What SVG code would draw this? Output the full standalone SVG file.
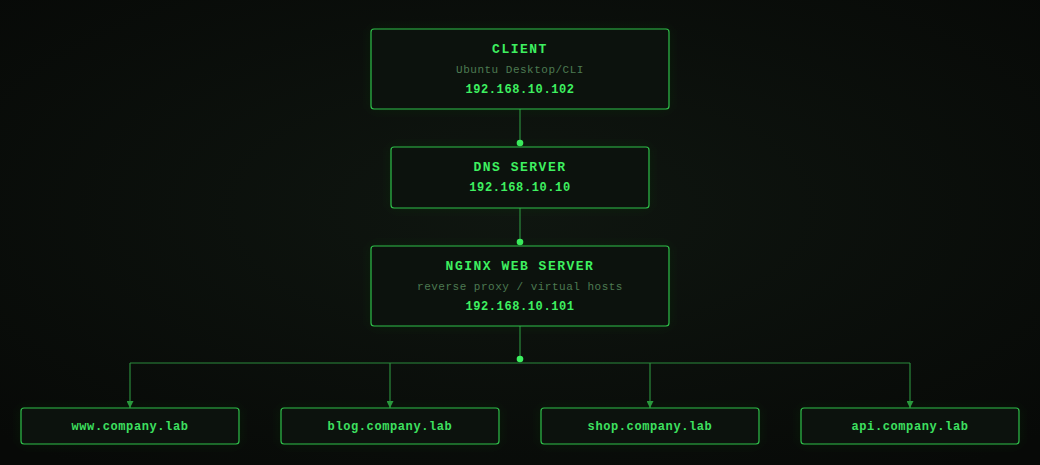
<svg xmlns="http://www.w3.org/2000/svg" width="1040" height="465" viewBox="0 0 1040 465">
<defs>
<radialGradient id="bg" cx="50%" cy="45%" r="70%">
<stop offset="0" stop-color="#0f1610"/>
<stop offset="1" stop-color="#070907"/>
</radialGradient>
<filter id="shadow" x="-20%" y="-60%" width="140%" height="220%">
<feGaussianBlur in="SourceGraphic" stdDeviation="6"/>
</filter>
<marker id="arr" viewBox="0 0 10 10" refX="10" refY="5" markerWidth="7" markerHeight="7" orient="auto" markerUnits="userSpaceOnUse">
<path d="M0,0 L10,5 L0,10 Z" fill="#2a9a3e"/>
</marker>
<style>
.box{fill:#0c120d;stroke:#2fbf4a;stroke-width:1.2}
.halo{fill:#1a6a2a;fill-opacity:0.18;stroke:none}
.t{font-family:"Liberation Mono","Courier New",monospace;font-weight:bold;font-size:13px;letter-spacing:1.5px;fill:#3ef060;text-anchor:middle}
.s{font-family:"Liberation Mono","Courier New",monospace;font-size:11px;letter-spacing:0.5px;fill:#4d7a52;text-anchor:middle}
.ip{font-family:"Liberation Mono","Courier New",monospace;font-weight:bold;font-size:12px;letter-spacing:0.6px;fill:#3ef060;text-anchor:middle}
.h{font-family:"Liberation Mono","Courier New",monospace;font-weight:bold;font-size:12px;letter-spacing:0.6px;fill:#3ee060;text-anchor:middle}
.ln{stroke:#2a8a3c;stroke-width:1.2;fill:none}
.dot{fill:#3cf060}
</style>
</defs>
<rect width="1040" height="465" fill="url(#bg)"/>
<g id="connectors">
<line class="ln" x1="520" y1="109" x2="520" y2="143"/>
<line class="ln" x1="520" y1="208" x2="520" y2="242"/>
<line class="ln" x1="520" y1="326" x2="520" y2="359"/>
<line class="ln" x1="130" y1="363" x2="910" y2="363"/>
<line class="ln" x1="130" y1="363" x2="130" y2="408" marker-end="url(#arr)"/>
<line class="ln" x1="390" y1="363" x2="390" y2="408" marker-end="url(#arr)"/>
<line class="ln" x1="650" y1="363" x2="650" y2="408" marker-end="url(#arr)"/>
<line class="ln" x1="910" y1="363" x2="910" y2="408" marker-end="url(#arr)"/>
<circle class="dot" cx="520" cy="143" r="3.3"/>
<circle class="dot" cx="520" cy="242" r="3.3"/>
<circle class="dot" cx="520" cy="359" r="3.3"/>
</g>
<g id="client">
<rect class="halo" x="371" y="29" width="298" height="80" rx="3" filter="url(#shadow)"/>
<rect class="box" x="371" y="29" width="298" height="80" rx="3"/>
<text class="t" x="520" y="53">CLIENT</text>
<text class="s" x="520" y="73">Ubuntu Desktop/CLI</text>
<text class="ip" x="520" y="93">192.168.10.102</text>
</g>
<g id="dns">
<rect class="halo" x="391" y="147" width="258" height="61" rx="3" filter="url(#shadow)"/>
<rect class="box" x="391" y="147" width="258" height="61" rx="3"/>
<text class="t" x="520" y="171">DNS SERVER</text>
<text class="ip" x="520" y="191">192.168.10.10</text>
</g>
<g id="nginx">
<rect class="halo" x="371" y="246" width="298" height="80" rx="3" filter="url(#shadow)"/>
<rect class="box" x="371" y="246" width="298" height="80" rx="3"/>
<text class="t" x="520" y="270">NGINX WEB SERVER</text>
<text class="s" x="520" y="290">reverse proxy / virtual hosts</text>
<text class="ip" x="520" y="310">192.168.10.101</text>
</g>
<g id="www">
<rect class="halo" x="21" y="408" width="218" height="36" rx="3" filter="url(#shadow)"/>
<rect class="box" x="21" y="408" width="218" height="36" rx="3"/>
<text class="h" x="130" y="430">www.company.lab</text>
</g>
<g id="blog">
<rect class="halo" x="281" y="408" width="218" height="36" rx="3" filter="url(#shadow)"/>
<rect class="box" x="281" y="408" width="218" height="36" rx="3"/>
<text class="h" x="390" y="430">blog.company.lab</text>
</g>
<g id="shop">
<rect class="halo" x="541" y="408" width="218" height="36" rx="3" filter="url(#shadow)"/>
<rect class="box" x="541" y="408" width="218" height="36" rx="3"/>
<text class="h" x="650" y="430">shop.company.lab</text>
</g>
<g id="api">
<rect class="halo" x="801" y="408" width="218" height="36" rx="3" filter="url(#shadow)"/>
<rect class="box" x="801" y="408" width="218" height="36" rx="3"/>
<text class="h" x="910" y="430">api.company.lab</text>
</g>
</svg>
